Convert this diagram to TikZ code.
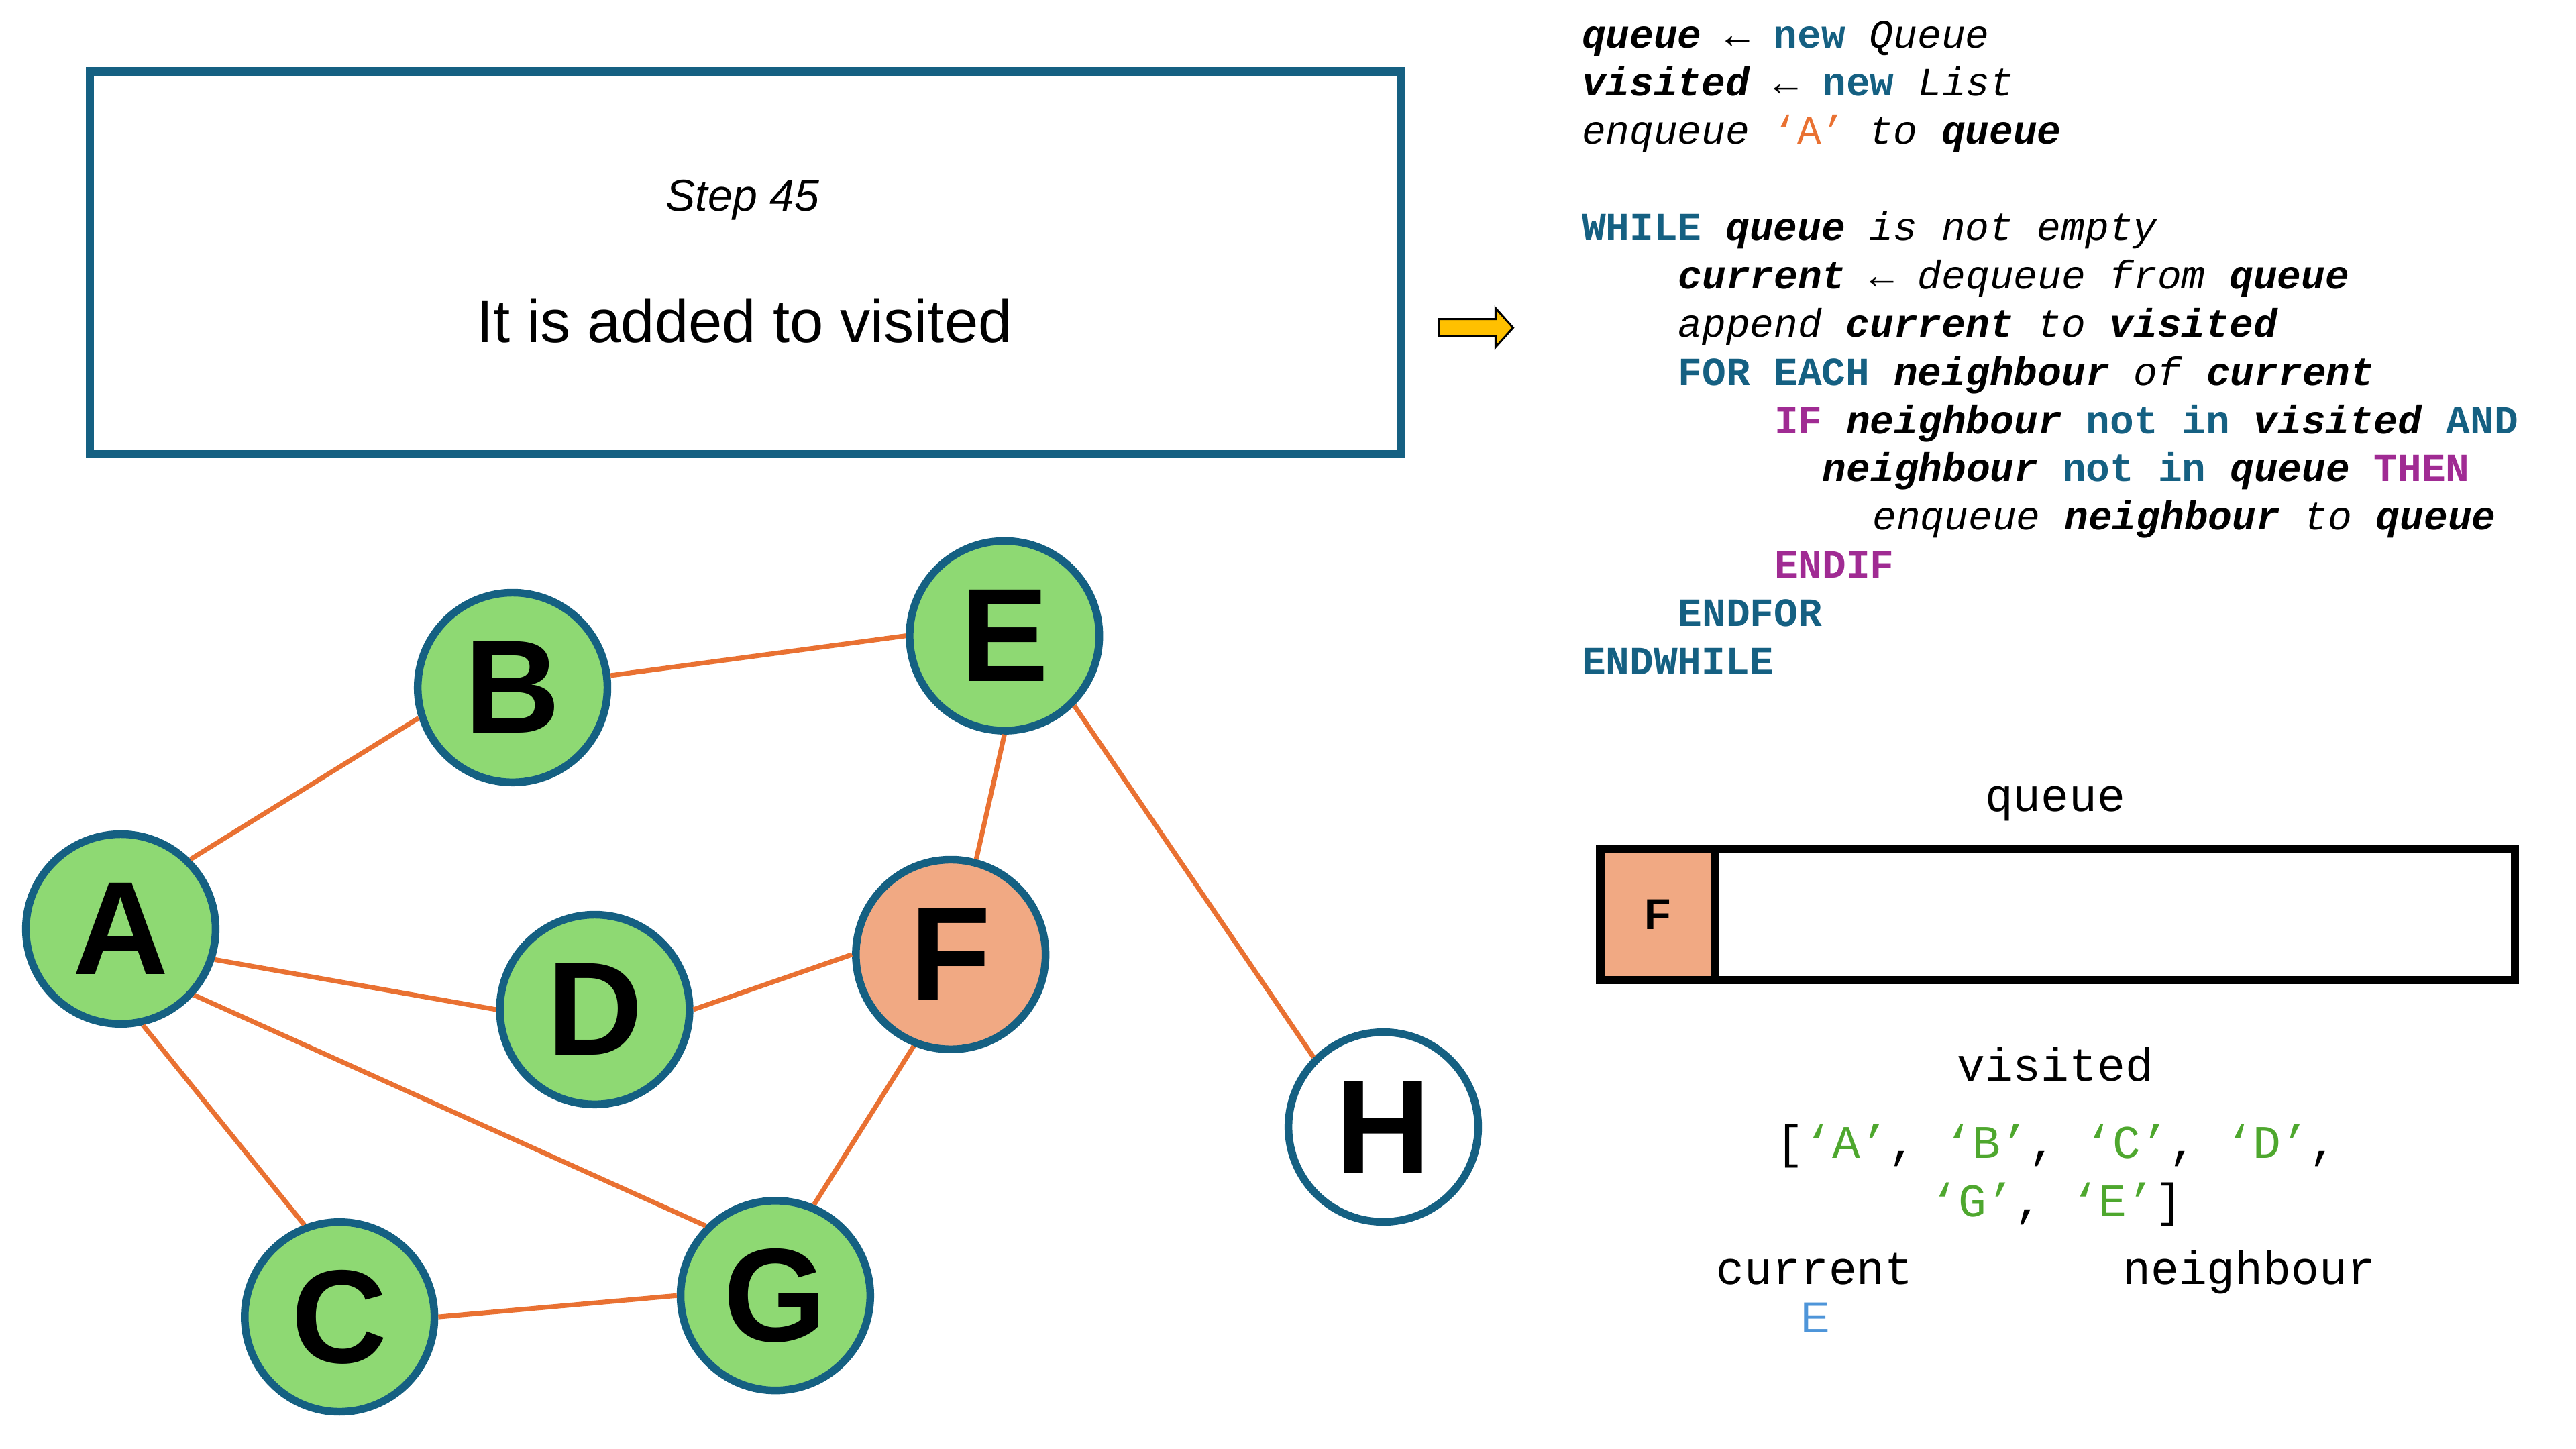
\documentclass[tikz,border=0pt]{standalone}
\usepackage{fontspec}
\setmainfont{Liberation Sans}
\newfontfamily\codefont{Liberation Mono}

\definecolor{nodeteal}{HTML}{156082}
\definecolor{edgeorange}{HTML}{E97132}
\definecolor{seengreen}{HTML}{8ED973}
\definecolor{queuedorange}{HTML}{F1A983}
\definecolor{kwteal}{HTML}{156082}
\definecolor{kwpink}{HTML}{A02B93}
\definecolor{listgreen}{HTML}{4EA72E}
\definecolor{curblue}{HTML}{4E95D9}
\definecolor{arrowgold}{HTML}{FFC000}

% pseudocode markup
\newcommand{\kwd}[1]{\textbf{\textcolor{kwteal}{#1}}}
\newcommand{\ctl}[1]{\textbf{\textcolor{kwpink}{#1}}}
\newcommand{\vname}[1]{\textbf{\textit{#1}}}
\newcommand{\itx}[1]{\textit{#1}}
\newcommand{\gitem}[1]{\textcolor{listgreen}{#1}}

\tikzset{
  vertex/.style={circle, draw=nodeteal, line width=2.66pt, minimum size=2.31cm,
    inner sep=0pt, font=\fontsize{46}{46}\selectfont\bfseries},
  vseen/.style={vertex, fill=seengreen},
  vqueued/.style={vertex, fill=queuedorange},
  vfresh/.style={vertex, fill=white},
  link/.style={draw=edgeorange, line width=1.65pt},
  codeline/.style={anchor=base west, inner sep=0pt,
    font=\codefont\fontsize{13.84}{16}\selectfont},
  panellabel/.style={anchor=base, inner sep=0pt,
    font=\codefont\fontsize{16.2}{20}\selectfont},
}

\begin{document}
\begin{tikzpicture}[x=0.02cm, y=-0.02cm]
    \useasboundingbox (0,0) rectangle (1568,882);

    % Step box
    \node[draw=nodeteal, line width=2.83pt, minimum width=15.96cm,
      minimum height=4.66cm, inner sep=0pt] (stepbox) at (453.5,160) {};
    \node[anchor=base, inner sep=0pt, font=\itshape\fontsize{15.4}{18}\selectfont]
      (steptitle) at (452,128.4) {Step 45};
    \node[anchor=base, inner sep=0pt, font=\fontsize{21}{25}\selectfont]
      (stepmsg) at (453,208.3) {It is added to visited};

    % Pointer arrow
    \draw[fill=arrowgold, line width=0.7pt, line join=miter]
      (875.7,194.2) -- (910.3,194.2) -- (910.3,187.5) -- (921,199.5)
      -- (910.3,211.4) -- (910.3,204.7) -- (875.7,204.7) -- cycle;

    % Pseudocode
    \node[codeline] (c1)  at (962.5,29)     {\vname{queue} ← \kwd{new} \itx{Queue}};
    \node[codeline] (c2)  at (962.5,58.35)  {\vname{visited} ← \kwd{new} \itx{List}};
    \node[codeline] (c3)  at (962.5,87.7)   {\itx{enqueue} \textcolor{edgeorange}{‘A’} \itx{to} \vname{queue}};
    \node[codeline] (c5)  at (962.5,146.4)  {\kwd{WHILE} \vname{queue} \itx{is not empty}};
    \node[codeline] (c6)  at (1021.1,175.75) {\vname{current} ← \itx{dequeue from} \vname{queue}};
    \node[codeline] (c7)  at (1021.1,205.1)  {\itx{append} \vname{current} \itx{to} \vname{visited}};
    \node[codeline] (c8)  at (1021.1,234.45) {\kwd{FOR EACH} \vname{neighbour} \itx{of} \vname{current}};
    \node[codeline] (c9)  at (1079.7,263.8)  {\ctl{IF} \vname{neighbour} \kwd{not in} \vname{visited} \kwd{AND}};
    \node[codeline] (c10) at (1109,293.15)   {\vname{neighbour} \kwd{not in} \vname{queue} \ctl{THEN}};
    \node[codeline] (c11) at (1139.5,322.5)  {\itx{enqueue} \vname{neighbour} \itx{to} \vname{queue}};
    \node[codeline] (c12) at (1079.7,351.85) {\ctl{ENDIF}};
    \node[codeline] (c13) at (1021.1,381.2)  {\kwd{ENDFOR}};
    \node[codeline] (c14) at (962.5,410.55)  {\kwd{ENDWHILE}};

    % Queue
    \node[panellabel] (qlabel) at (1251,494) {queue};
    \node[draw, line width=2.83pt, minimum width=11.14cm, minimum height=1.59cm,
      inner sep=0pt] (qbox) at (1252.5,556.75) {};
    \node[draw, fill=queuedorange, line width=2.83pt, minimum width=1.396cm,
      minimum height=1.59cm, inner sep=0pt, anchor=west,
      font=\bfseries\fontsize{15}{15}\selectfont] (qf) at (qbox.west) {F};

    % Visited list
    \node[panellabel] (vlabel) at (1251,658) {visited};
    \node[panellabel] (vlist1) at (1252,705)
      {[\gitem{‘A’}, \gitem{‘B’}, \gitem{‘C’}, \gitem{‘D’},};
    \node[panellabel] (vlist2) at (1252,740.5) {\gitem{‘G’}, \gitem{‘E’}]};

    % Current and neighbour
    \node[panellabel] (curlabel) at (1104.6,781.8) {current};
    \node[panellabel] (nbrlabel) at (1369,781.8) {neighbour};
    \node[anchor=base, inner sep=0pt, text=curblue, font=\fontsize{15}{15}\selectfont]
      (curval) at (1104.8,811) {E};

    % Graph
    \node[vseen]   (A) at (73.5,565.5) {A};
    \node[vseen]   (B) at (312,418.5)  {B};
    \node[vseen]   (E) at (611.4,387)  {E};
    \node[vseen]   (D) at (362,614.5)  {D};
    \node[vqueued] (F) at (578.7,581)  {F};
    \node[vfresh]  (H) at (842,686)    {H};
    \node[vseen]   (C) at (206.7,801.6) {C};
    \node[vseen]   (G) at (472,788.6)  {G};

    \foreach \u/\v in {A.45/B.198, B.7/E.180, E.270/F.75, E.-45/H.135,
                       A.-18/D.180, D.0/F.180, A.-42/G.135, A.-77/C.111,
                       C.0/G.180, F.248/G.67}
      \draw[link] (\u) -- (\v);
\end{tikzpicture}
\end{document}
